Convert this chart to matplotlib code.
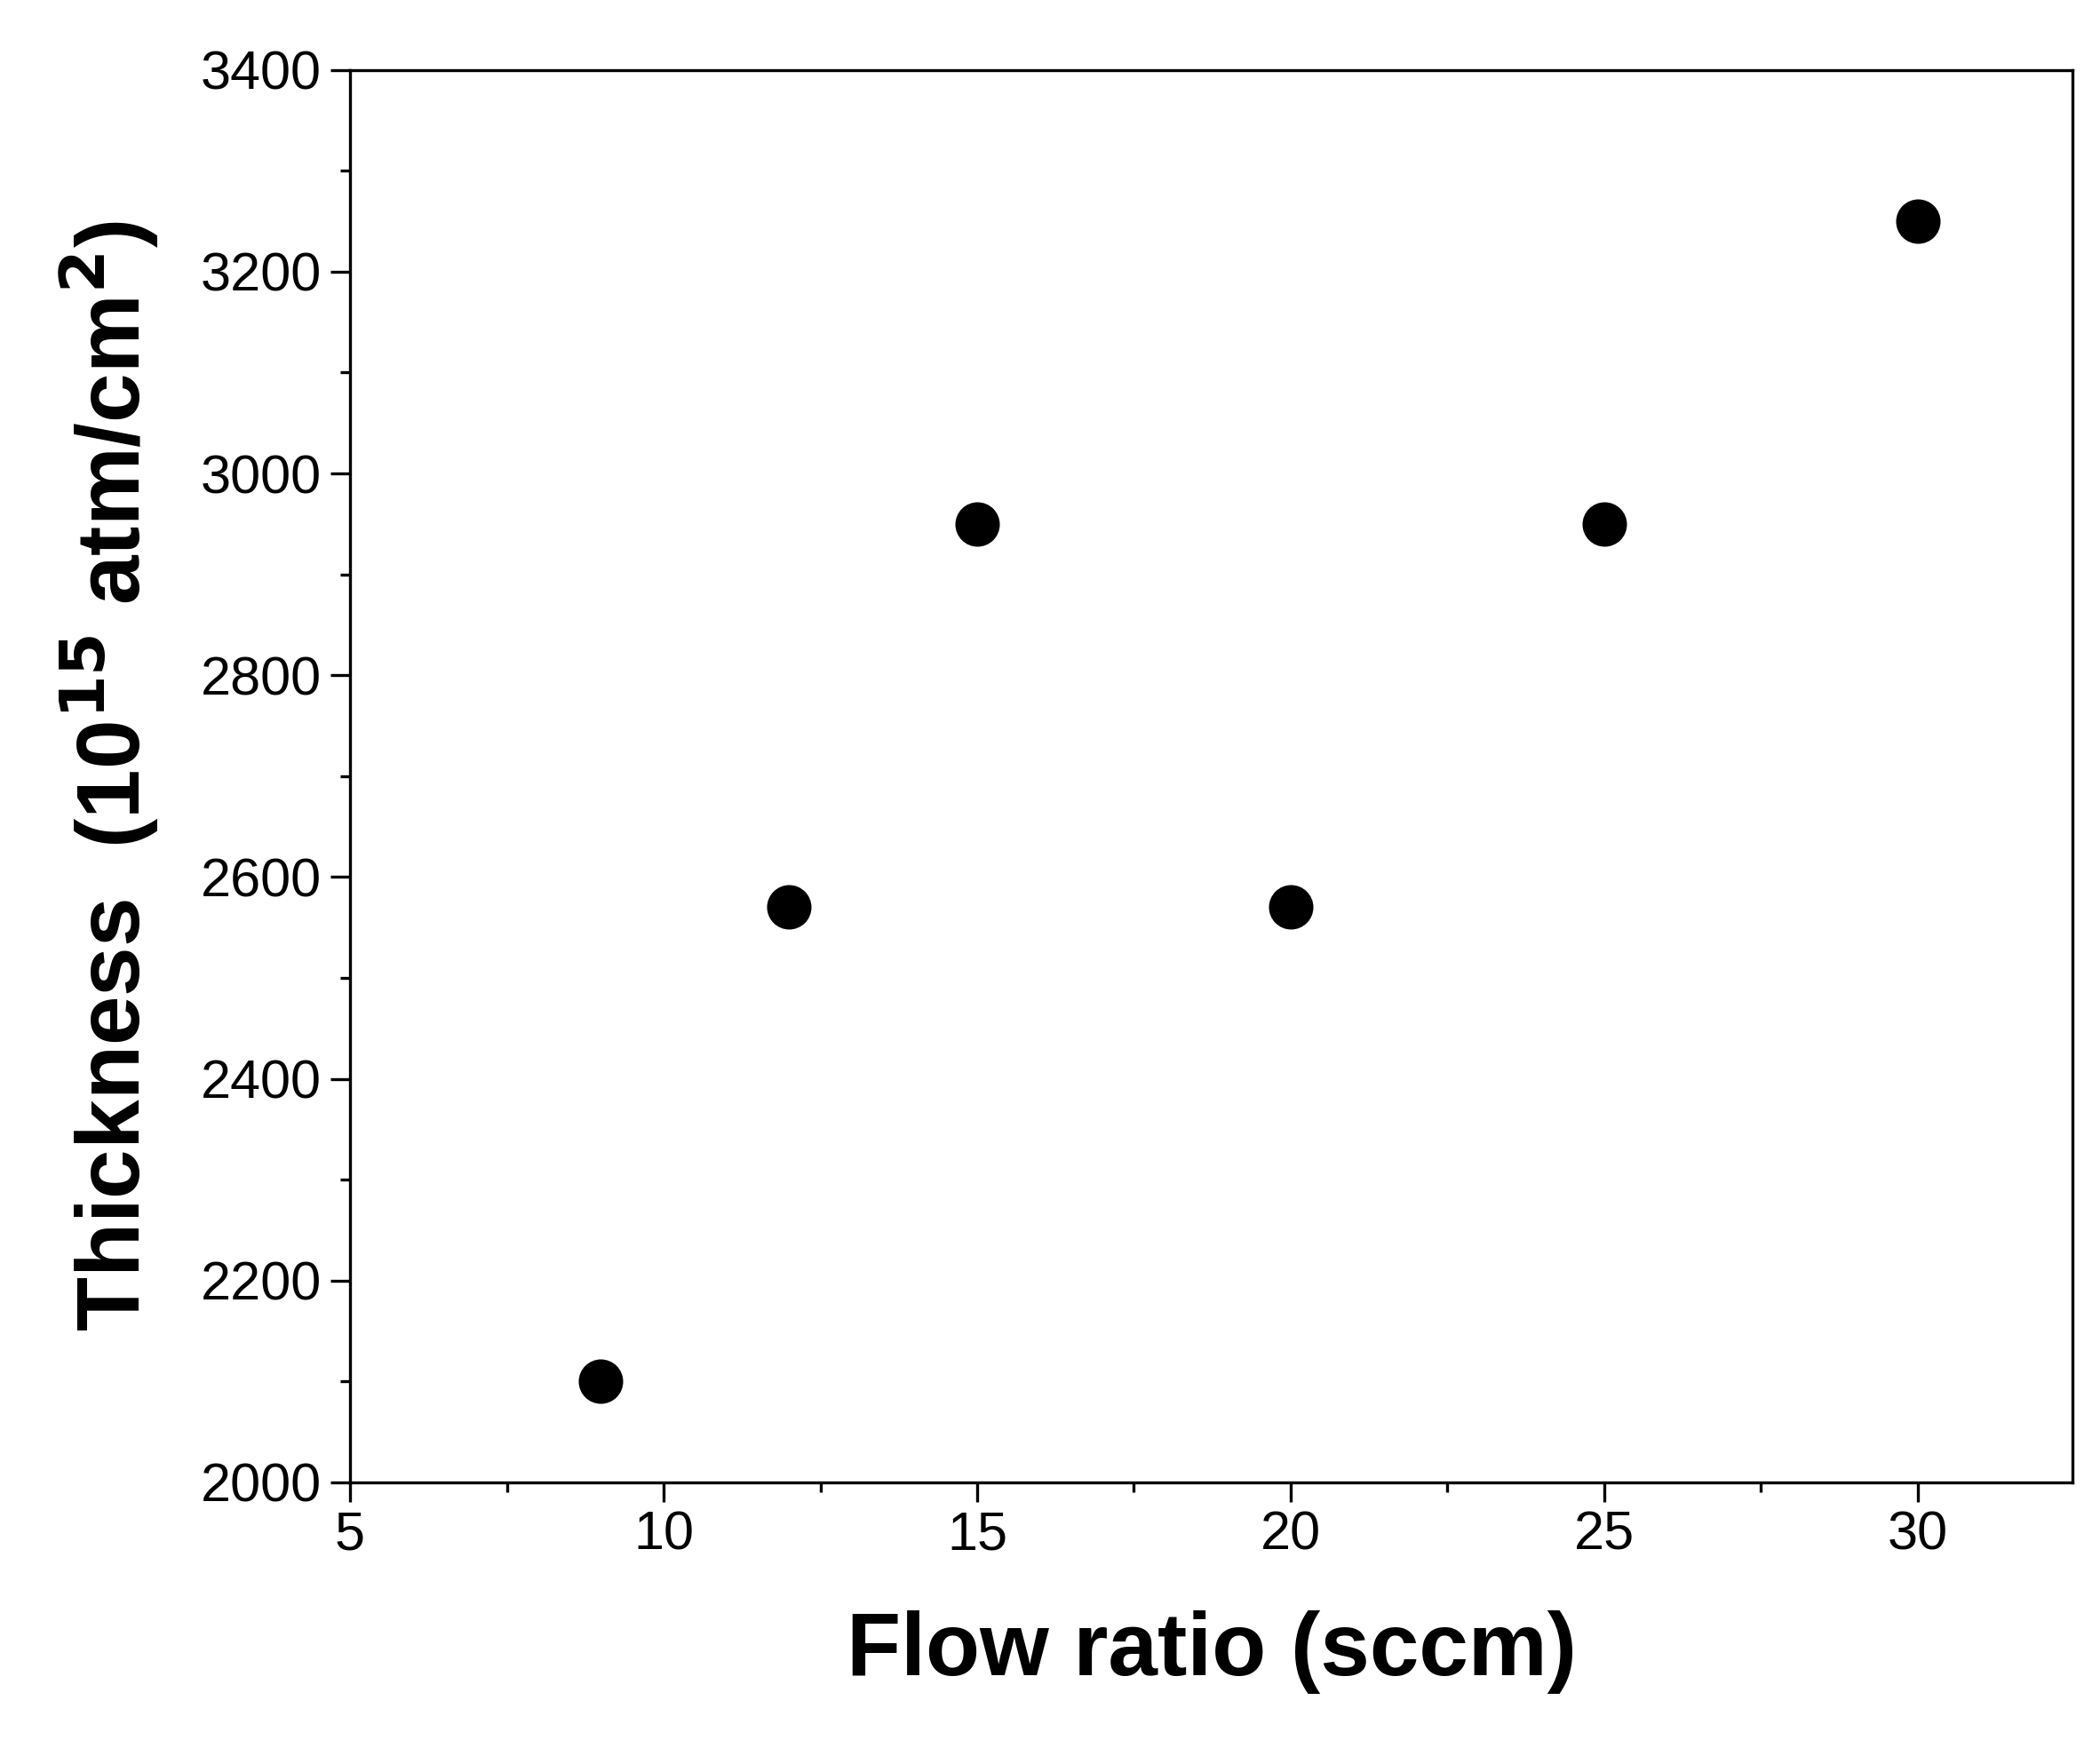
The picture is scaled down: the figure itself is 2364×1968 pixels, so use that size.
import matplotlib
matplotlib.use("Agg")
import matplotlib.pyplot as plt
from matplotlib.ticker import MultipleLocator

flow = [9, 12, 15, 20, 25, 30]
thickness = [2100, 2570, 2950, 2570, 2950, 3250]

plt.rcParams['font.family'] = ['Liberation Sans', 'DejaVu Sans']
fig = plt.figure(figsize=(11.82, 9.84), dpi=200)
ax = fig.add_axes([0.1667, 0.152, 0.8203, 0.808])
ax.plot(flow, thickness, 'o', color='black', markersize=17, linestyle='none')
ax.set_xlim(5, 32.47)
ax.set_ylim(2000, 3400)
ax.xaxis.set_major_locator(MultipleLocator(5))
ax.xaxis.set_minor_locator(MultipleLocator(2.5))
ax.yaxis.set_major_locator(MultipleLocator(200))
ax.yaxis.set_minor_locator(MultipleLocator(100))
ax.tick_params(which='major', length=8, width=1.2, labelsize=22)
ax.tick_params(which='minor', length=4, width=1.2)
for s in ax.spines.values():
    s.set_linewidth(1.2)
ax.set_xlabel('Flow ratio (sccm)', fontsize=36, fontweight='bold', labelpad=20)
ax.set_ylabel(r'Thickness  (10$^{\mathbf{15}}$ atm/cm$^{\mathbf{2}}$)', fontsize=36, fontweight='bold', labelpad=16)
fig.savefig('out.png', dpi=200)
